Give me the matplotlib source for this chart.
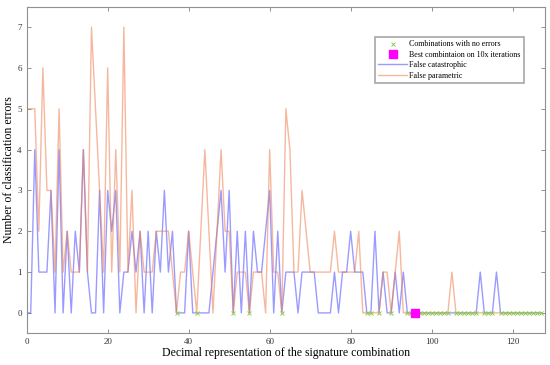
import numpy as np
import matplotlib
matplotlib.use("Agg")
import matplotlib.pyplot as plt

plt.rcParams["font.family"] = ["Liberation Serif", "DejaVu Serif"]

# errors per signature combination (index 0..127)
false_catastrophic = [0, 0, 4, 1, 1, 1, 3, 0, 4, 0, 2, 0, 2, 1, 4, 1,
                      0, 0, 3, 0, 3, 2, 3, 0, 1, 1, 2, 1, 2, 0, 2, 0,
                      2, 1, 3, 1, 2, 0, 0, 0, 2, 0, 0, 0, 0, 0, 1, 2,
                      3, 1, 3, 0, 2, 0, 2, 0, 2, 1, 1, 2, 3, 0, 2, 0,
                      1, 1, 1, 0, 1, 1, 1, 1, 0, 0, 0, 0, 1, 0, 1, 1,
                      2, 1, 1, 1, 0, 0, 2, 0, 1, 0, 0, 1, 0, 1, 0, 0,
                      0, 0, 0, 0, 0, 0, 0, 0, 0, 0, 0, 0, 0, 0, 0, 0,
                      1, 0, 0, 0, 1, 0, 0, 0, 0, 0, 0, 0, 0, 0, 0, 0]
false_parametric = [5, 5, 5, 2, 6, 3, 3, 1, 5, 1, 2, 1, 1, 1, 4, 1,
                    7, 5, 3, 1, 6, 1, 4, 1, 7, 1, 3, 0, 2, 1, 1, 1,
                    2, 2, 2, 2, 1, 0, 1, 1, 2, 1, 0, 2, 4, 2, 0, 2,
                    4, 2, 2, 0, 1, 1, 1, 0, 1, 1, 1, 0, 4, 1, 1, 0,
                    5, 4, 1, 1, 3, 2, 1, 1, 1, 1, 1, 1, 2, 1, 1, 1,
                    1, 1, 2, 0, 0, 0, 0, 0, 1, 1, 0, 1, 2, 0, 0, 0,
                    0, 0, 0, 0, 0, 0, 0, 0, 0, 1, 0, 0, 0, 0, 0, 0,
                    0, 0, 0, 0, 0, 0, 0, 0, 0, 0, 0, 0, 0, 0, 0, 0]
best_combination = 96

combos = np.arange(len(false_catastrophic))
fc = np.array(false_catastrophic)
fp = np.array(false_parametric)
no_err = combos[(fc == 0) & (fp == 0)]

fig = plt.figure(figsize=(5.5, 3.65), dpi=100)
ax = fig.add_axes([0.0485, 0.0868, 0.9425, 0.8948])

ax.plot(no_err, np.zeros(len(no_err)), "x", color="#8ccf4f", markersize=3.5,
        markeredgewidth=0.7, label="Combinations with no errors", zorder=3)
ax.plot([best_combination], [0], "s", color="#ff00ff", markersize=5.5,
        label="Best combintaion on 10x iterations", zorder=4)
ax.plot(combos, fc, color="#4a4aff", alpha=0.55, linewidth=1.0,
        label="False catastrophic")
ax.plot(combos, fp, color="#ee7d4e", alpha=0.55, linewidth=1.0,
        label="False parametric")

ax.set_xlim(0, 128)
ax.set_ylim(-0.5, 7.5)
ax.set_xticks([0, 20, 40, 60, 80, 100, 120])
ax.set_yticks(range(8))
ax.tick_params(direction="in", top=True, right=True, length=3, width=0.6,
               labelsize=6.5, color="#808080", labelcolor="#333333", pad=3.5)
for s in ax.spines.values():
    s.set_color("#909090")
    s.set_linewidth(0.8)

ax.set_xlabel("Decimal representation of the signature combination", fontsize=8.5, labelpad=0.5)
ax.set_ylabel("Number of classification errors", fontsize=8.5, labelpad=2)

leg = ax.legend(loc="upper right", bbox_to_anchor=(0.9595, 0.9066), borderaxespad=0,
                fontsize=5.8, handlelength=3.6, frameon=True, fancybox=False,
                borderpad=0.4, labelspacing=0.3, handletextpad=0.3)
leg.get_frame().set_edgecolor("#909090")
leg.get_frame().set_linewidth(1.2)

fig.savefig("out.png", dpi=100)
